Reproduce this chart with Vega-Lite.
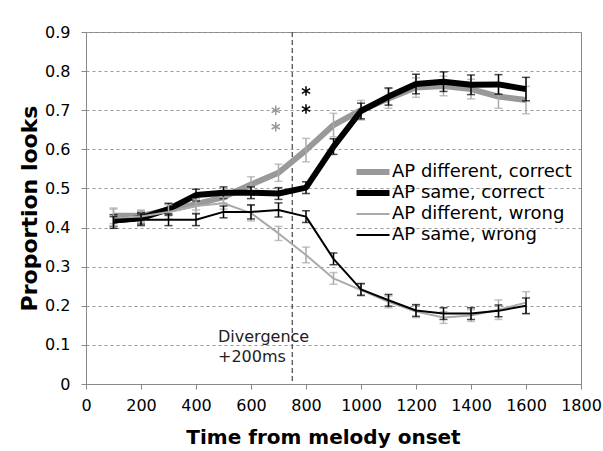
{
  "$schema": "https://vega.github.io/schema/vega-lite/v6.json",
  "width": 495,
  "height": 352,
  "autosize": {"type": "none"},
  "padding": {"left": 86, "top": 32, "right": 22, "bottom": 67},
  "background": "white",
  "config": {
    "font": "DejaVu Sans",
    "view": {"stroke": "#888888", "strokeWidth": 1},
    "axis": {"labelFont": "DejaVu Sans", "titleFont": "DejaVu Sans", "labelColor": "#000000", "titleColor": "#000000", "domainColor": "#888888", "tickColor": "#888888", "tickSize": 5, "labelFontSize": 16, "titleFontSize": 20, "titleFontWeight": "bold", "labelOverlap": false, "labelFlush": false},
    "legend": {"labelFont": "DejaVu Sans"}
  },
  "datasets": {
    "main": [
      {"series": "AP different, correct", "t": 100, "p": 0.430, "lo": 0.410, "hi": 0.450},
      {"series": "AP different, correct", "t": 200, "p": 0.430, "lo": 0.415, "hi": 0.445},
      {"series": "AP different, correct", "t": 300, "p": 0.445, "lo": 0.430, "hi": 0.460},
      {"series": "AP different, correct", "t": 400, "p": 0.460, "lo": 0.445, "hi": 0.475},
      {"series": "AP different, correct", "t": 500, "p": 0.478, "lo": 0.463, "hi": 0.493},
      {"series": "AP different, correct", "t": 600, "p": 0.510, "lo": 0.490, "hi": 0.530},
      {"series": "AP different, correct", "t": 700, "p": 0.540, "lo": 0.518, "hi": 0.562},
      {"series": "AP different, correct", "t": 800, "p": 0.598, "lo": 0.568, "hi": 0.628},
      {"series": "AP different, correct", "t": 900, "p": 0.662, "lo": 0.632, "hi": 0.692},
      {"series": "AP different, correct", "t": 1000, "p": 0.700, "lo": 0.675, "hi": 0.725},
      {"series": "AP different, correct", "t": 1100, "p": 0.730, "lo": 0.705, "hi": 0.755},
      {"series": "AP different, correct", "t": 1200, "p": 0.758, "lo": 0.733, "hi": 0.783},
      {"series": "AP different, correct", "t": 1300, "p": 0.762, "lo": 0.737, "hi": 0.787},
      {"series": "AP different, correct", "t": 1400, "p": 0.754, "lo": 0.729, "hi": 0.779},
      {"series": "AP different, correct", "t": 1500, "p": 0.735, "lo": 0.705, "hi": 0.765},
      {"series": "AP different, correct", "t": 1600, "p": 0.726, "lo": 0.691, "hi": 0.761},
      {"series": "AP same, correct", "t": 100, "p": 0.418, "lo": 0.403, "hi": 0.433},
      {"series": "AP same, correct", "t": 200, "p": 0.424, "lo": 0.409, "hi": 0.439},
      {"series": "AP same, correct", "t": 300, "p": 0.447, "lo": 0.432, "hi": 0.462},
      {"series": "AP same, correct", "t": 400, "p": 0.483, "lo": 0.468, "hi": 0.498},
      {"series": "AP same, correct", "t": 500, "p": 0.489, "lo": 0.474, "hi": 0.504},
      {"series": "AP same, correct", "t": 600, "p": 0.489, "lo": 0.474, "hi": 0.504},
      {"series": "AP same, correct", "t": 700, "p": 0.487, "lo": 0.472, "hi": 0.502},
      {"series": "AP same, correct", "t": 800, "p": 0.502, "lo": 0.487, "hi": 0.517},
      {"series": "AP same, correct", "t": 900, "p": 0.607, "lo": 0.587, "hi": 0.627},
      {"series": "AP same, correct", "t": 1000, "p": 0.698, "lo": 0.678, "hi": 0.718},
      {"series": "AP same, correct", "t": 1100, "p": 0.735, "lo": 0.713, "hi": 0.757},
      {"series": "AP same, correct", "t": 1200, "p": 0.767, "lo": 0.742, "hi": 0.792},
      {"series": "AP same, correct", "t": 1300, "p": 0.773, "lo": 0.748, "hi": 0.798},
      {"series": "AP same, correct", "t": 1400, "p": 0.765, "lo": 0.740, "hi": 0.790},
      {"series": "AP same, correct", "t": 1500, "p": 0.766, "lo": 0.741, "hi": 0.791},
      {"series": "AP same, correct", "t": 1600, "p": 0.754, "lo": 0.724, "hi": 0.784},
      {"series": "AP different, wrong", "t": 100, "p": 0.425, "lo": 0.403, "hi": 0.447},
      {"series": "AP different, wrong", "t": 200, "p": 0.428, "lo": 0.413, "hi": 0.443},
      {"series": "AP different, wrong", "t": 300, "p": 0.440, "lo": 0.422, "hi": 0.458},
      {"series": "AP different, wrong", "t": 400, "p": 0.455, "lo": 0.437, "hi": 0.473},
      {"series": "AP different, wrong", "t": 500, "p": 0.462, "lo": 0.447, "hi": 0.477},
      {"series": "AP different, wrong", "t": 600, "p": 0.437, "lo": 0.417, "hi": 0.457},
      {"series": "AP different, wrong", "t": 700, "p": 0.385, "lo": 0.367, "hi": 0.403},
      {"series": "AP different, wrong", "t": 800, "p": 0.330, "lo": 0.310, "hi": 0.350},
      {"series": "AP different, wrong", "t": 900, "p": 0.270, "lo": 0.255, "hi": 0.285},
      {"series": "AP different, wrong", "t": 1000, "p": 0.240, "lo": 0.225, "hi": 0.255},
      {"series": "AP different, wrong", "t": 1100, "p": 0.210, "lo": 0.195, "hi": 0.225},
      {"series": "AP different, wrong", "t": 1200, "p": 0.185, "lo": 0.170, "hi": 0.200},
      {"series": "AP different, wrong", "t": 1300, "p": 0.170, "lo": 0.155, "hi": 0.185},
      {"series": "AP different, wrong", "t": 1400, "p": 0.175, "lo": 0.160, "hi": 0.190},
      {"series": "AP different, wrong", "t": 1500, "p": 0.190, "lo": 0.165, "hi": 0.215},
      {"series": "AP different, wrong", "t": 1600, "p": 0.208, "lo": 0.180, "hi": 0.236},
      {"series": "AP same, wrong", "t": 100, "p": 0.413, "lo": 0.398, "hi": 0.428},
      {"series": "AP same, wrong", "t": 200, "p": 0.420, "lo": 0.405, "hi": 0.435},
      {"series": "AP same, wrong", "t": 300, "p": 0.420, "lo": 0.405, "hi": 0.435},
      {"series": "AP same, wrong", "t": 400, "p": 0.420, "lo": 0.405, "hi": 0.435},
      {"series": "AP same, wrong", "t": 500, "p": 0.440, "lo": 0.425, "hi": 0.455},
      {"series": "AP same, wrong", "t": 600, "p": 0.440, "lo": 0.422, "hi": 0.458},
      {"series": "AP same, wrong", "t": 700, "p": 0.445, "lo": 0.427, "hi": 0.463},
      {"series": "AP same, wrong", "t": 800, "p": 0.428, "lo": 0.413, "hi": 0.443},
      {"series": "AP same, wrong", "t": 900, "p": 0.320, "lo": 0.305, "hi": 0.335},
      {"series": "AP same, wrong", "t": 1000, "p": 0.242, "lo": 0.227, "hi": 0.257},
      {"series": "AP same, wrong", "t": 1100, "p": 0.214, "lo": 0.199, "hi": 0.229},
      {"series": "AP same, wrong", "t": 1200, "p": 0.188, "lo": 0.173, "hi": 0.203},
      {"series": "AP same, wrong", "t": 1300, "p": 0.180, "lo": 0.165, "hi": 0.195},
      {"series": "AP same, wrong", "t": 1400, "p": 0.180, "lo": 0.165, "hi": 0.195},
      {"series": "AP same, wrong", "t": 1500, "p": 0.187, "lo": 0.172, "hi": 0.202},
      {"series": "AP same, wrong", "t": 1600, "p": 0.200, "lo": 0.180, "hi": 0.220}
    ],
    "notes": [
      {"t": 480, "p": 0.121, "label": "Divergence"},
      {"t": 480, "p": 0.069, "label": "+200ms"}
    ],
    "stars": [
      {"t": 690, "p": 0.700, "group": "different"},
      {"t": 690, "p": 0.658, "group": "different"},
      {"t": 800, "p": 0.749, "group": "same"},
      {"t": 800, "p": 0.703, "group": "same"}
    ],
    "divergence": [{"t": 750}]
  },
  "encoding": {
    "x": {"field": "t", "type": "quantitative", "scale": {"domain": [0, 1800], "nice": false}, "axis": {"values": [0, 200, 400, 600, 800, 1000, 1200, 1400, 1600, 1800], "format": "d", "grid": false, "labelPadding": 8, "labelOverlap": false, "labelFlush": false, "title": "Time from melody onset", "titleX": 237, "titleY": 53, "titleBaseline": "middle", "titleAnchor": "start", "titleAlign": "center"}},
    "y": {"field": "p", "type": "quantitative", "scale": {"domain": [0, 0.9], "nice": false}, "axis": {"values": [0, 0.1, 0.2, 0.3, 0.4, 0.5, 0.6, 0.7, 0.8, 0.9], "format": "~g", "grid": true, "gridColor": "#999999", "gridDash": [3, 3], "gridWidth": 1, "labelPadding": 11, "labelOverlap": false, "labelFlush": false, "title": "Proportion looks", "titleFontSize": 22, "titleX": -57, "titleY": 176, "titleAngle": -90, "titleAlign": "center", "titleBaseline": "middle"}}
  },
  "layer": [
    {
      "data": {"name": "divergence"},
      "mark": {"type": "rule", "color": "#444444", "strokeDash": [5, 3], "strokeWidth": 1.2},
      "encoding": {"x": {"field": "t", "type": "quantitative"}, "y": null}
    },
    {
      "data": {"name": "notes"},
      "mark": {"type": "text", "align": "left", "baseline": "middle", "fontSize": 16, "color": "#222222"},
      "encoding": {"text": {"field": "label"}}
    },
    {
      "data": {"name": "stars"},
      "transform": [{"filter": "datum.group === 'different'"}],
      "mark": {"type": "point", "shape": "M0,-1L0,1M-0.866,-0.5L0.866,0.5M-0.866,0.5L0.866,-0.5", "filled": false, "stroke": "#999999", "strokeWidth": 1.5, "size": 90, "opacity": 1}
    },
    {
      "data": {"name": "stars"},
      "transform": [{"filter": "datum.group === 'same'"}],
      "mark": {"type": "point", "shape": "M0,-1L0,1M-0.866,-0.5L0.866,0.5M-0.866,0.5L0.866,-0.5", "filled": false, "stroke": "#000000", "strokeWidth": 1.5, "size": 90, "opacity": 1}
    },
    {
      "data": {"name": "main"},
      "transform": [{"filter": "datum.series === 'AP different, correct'"}],
      "mark": {"type": "line", "strokeJoin": "round", "strokeWidth": 6},
      "encoding": {
        "color": {"field": "series", "type": "nominal", "scale": {"domain": ["AP different, correct", "AP same, correct", "AP different, wrong", "AP same, wrong"], "range": ["#999999", "#000000", "#aaaaaa", "#000000"]}, "legend": {"title": null, "orient": "none", "legendX": 278, "legendY": 131, "symbolType": "stroke", "symbolSize": 1089, "labelFontSize": 18, "labelColor": "#000000", "labelOffset": 10, "labelLimit": 300, "gridAlign": "all", "rowPadding": -7, "encode": {"symbols": {"update": {"strokeWidth": {"signal": "indexof(['AP different, correct', 'AP same, correct'], datum.value) >= 0 ? 6 : 2"}}}}}}
      }
    },
    {
      "data": {"name": "main"},
      "transform": [{"filter": "datum.series === 'AP different, correct'"}],
      "mark": {"type": "errorbar", "color": "#aaaaaa", "ticks": {"size": 8, "thickness": 1.5}, "rule": {"strokeWidth": 1.5}},
      "encoding": {"y": {"field": "lo", "type": "quantitative"}, "y2": {"field": "hi"}}
    },
    {
      "data": {"name": "main"},
      "transform": [{"filter": "datum.series === 'AP same, correct'"}],
      "mark": {"type": "line", "strokeJoin": "round", "strokeWidth": 6},
      "encoding": {"color": {"field": "series", "type": "nominal"}}
    },
    {
      "data": {"name": "main"},
      "transform": [{"filter": "datum.series === 'AP same, correct'"}],
      "mark": {"type": "errorbar", "color": "#000000", "ticks": {"size": 8, "thickness": 1.5}, "rule": {"strokeWidth": 1.5}},
      "encoding": {"y": {"field": "lo", "type": "quantitative"}, "y2": {"field": "hi"}}
    },
    {
      "data": {"name": "main"},
      "transform": [{"filter": "datum.series === 'AP different, wrong'"}],
      "mark": {"type": "line", "strokeJoin": "round", "strokeWidth": 2},
      "encoding": {"color": {"field": "series", "type": "nominal"}}
    },
    {
      "data": {"name": "main"},
      "transform": [{"filter": "datum.series === 'AP different, wrong'"}],
      "mark": {"type": "errorbar", "color": "#aaaaaa", "ticks": {"size": 8, "thickness": 1.5}, "rule": {"strokeWidth": 1.5}},
      "encoding": {"y": {"field": "lo", "type": "quantitative"}, "y2": {"field": "hi"}}
    },
    {
      "data": {"name": "main"},
      "transform": [{"filter": "datum.series === 'AP same, wrong'"}],
      "mark": {"type": "line", "strokeJoin": "round", "strokeWidth": 2},
      "encoding": {"color": {"field": "series", "type": "nominal"}}
    },
    {
      "data": {"name": "main"},
      "transform": [{"filter": "datum.series === 'AP same, wrong'"}],
      "mark": {"type": "errorbar", "color": "#000000", "ticks": {"size": 8, "thickness": 1.5}, "rule": {"strokeWidth": 1.5}},
      "encoding": {"y": {"field": "lo", "type": "quantitative"}, "y2": {"field": "hi"}}
    }
  ]
}
